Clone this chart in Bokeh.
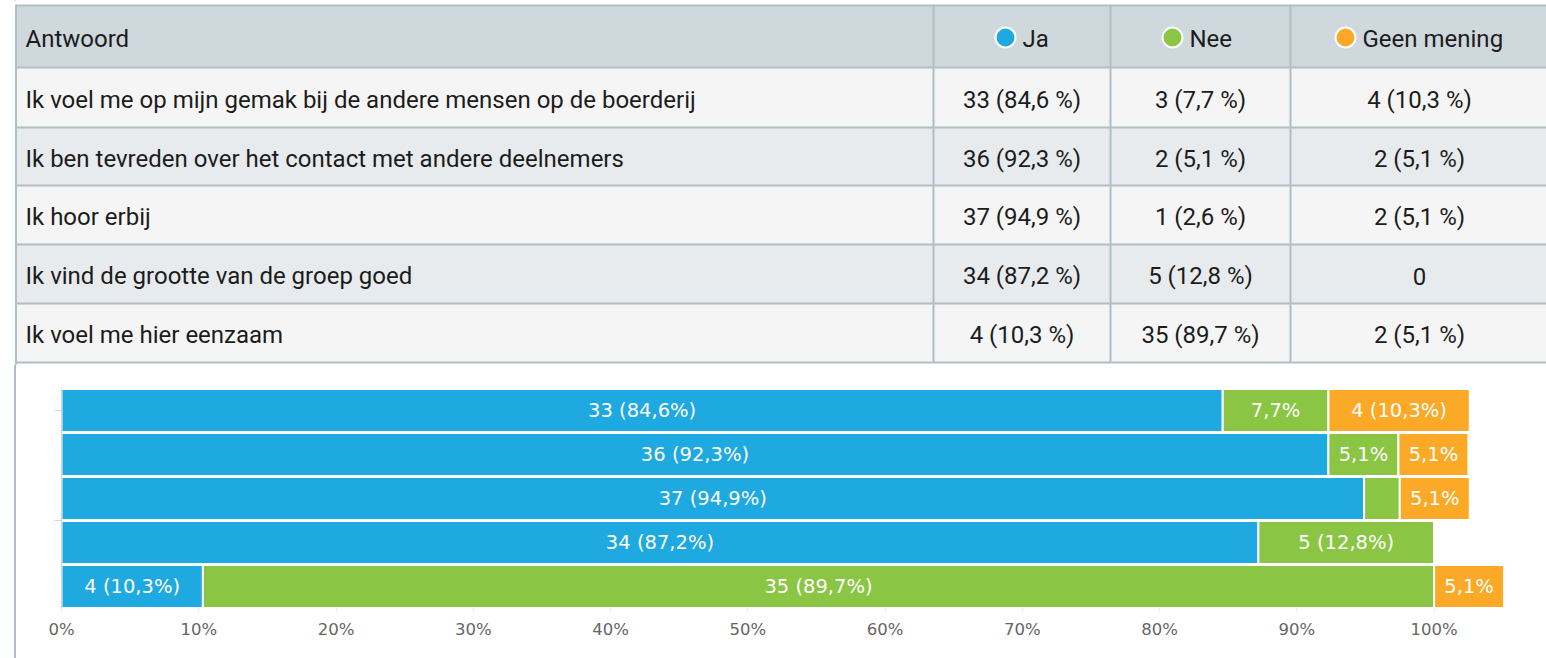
from bokeh.plotting import figure
from bokeh.layouts import column
from bokeh.models import Range1d, FixedTicker, CustomJSTickFormatter, BoxAnnotation, Span
from bokeh.core.properties import value
from bokeh.embed import file_html
from bokeh.resources import INLINE

# ---------------- data ----------------
statements = [
    "Ik voel me op mijn gemak bij de andere mensen op de boerderij",
    "Ik ben tevreden over het contact met andere deelnemers",
    "Ik hoor erbij",
    "Ik vind de grootte van de groep goed",
    "Ik voel me hier eenzaam",
]
answers = ["Ja", "Nee", "Geen mening"]
header_first = "Antwoord"
ja_n = [33, 36, 37, 34, 4]
nee_n = [3, 2, 1, 5, 35]
geen_n = [4, 2, 2, 0, 2]
ja_pct = [84.6, 92.3, 94.9, 87.2, 10.3]
nee_pct = [7.7, 5.1, 2.6, 12.8, 89.7]
geen_pct = [10.3, 5.1, 5.1, 0.0, 5.1]
x_ticks = [0, 10, 20, 30, 40, 50, 60, 70, 80, 90, 100]
colors = ["#1ea9e1", "#8bc544", "#fba926"]

counts = [ja_n, nee_n, geen_n]
pcts = [ja_pct, nee_pct, geen_pct]

TABLE_FONT = "Roboto"
CHART_FONT = "DejaVu Sans"
BORDER = "#b0bec5"
W = 1546


def fmt_pct(p):
    return f"{p:.1f}".replace(".", ",")


def cell_text(n, p):
    return "0" if n == 0 else f"{n} ({fmt_pct(p)} %)"


# ---------------- table ----------------
TH = 365
t = figure(width=W, height=TH, x_range=Range1d(0, W), y_range=Range1d(TH, 0),
           x_axis_type=None, y_axis_type=None, min_border=0,
           output_backend="svg", toolbar_location=None)
t.grid.visible = False
t.outline_line_color = None

edges = [5, 67, 127, 185, 244, 303, 362]
fills = ["#cfd8dc", "#f5f5f5", "#e8ebed", "#f5f5f5", "#e8ebed", "#f5f5f5"]
t.quad(left=15.5, right=W, top=edges[:-1], bottom=edges[1:], fill_color=fills, line_color=None)
t.segment(x0=15.5, x1=W, y0=edges, y1=edges, line_color=BORDER, line_width=2)
col_x = [933, 1110, 1290]
t.segment(x0=col_x, x1=col_x, y0=edges[0] - 1, y1=edges[-1], line_color=BORDER, line_width=2)
t.add_layout(BoxAnnotation(left=14.5, right=16.5, top=4, bottom=TH,
                           left_units="canvas", right_units="canvas",
                           top_units="canvas", bottom_units="canvas",
                           fill_color=BORDER, fill_alpha=1, line_color=None, level="overlay"))

centers = [(edges[i] + edges[i + 1]) / 2 + 2 for i in range(len(edges) - 1)]
FS = "24px"
TXT = "#1c1c1c"
t.text(x=[25], y=[centers[0]], text=[header_first], text_font=value(TABLE_FONT),
       text_font_size=FS, text_color=TXT, text_baseline="middle", text_align="left")
t.text(x=[25] * len(statements), y=centers[1:], text=statements, text_font=value(TABLE_FONT),
       text_font_size=FS, text_color=TXT, text_baseline="middle", text_align="left")

dot_x = [1005, 1172, 1345]
t.scatter(x=dot_x, y=[centers[0] - 1] * 3, size=20, fill_color=colors, line_color="white", line_width=2)
t.text(x=[d + 17 for d in dot_x], y=[centers[0]] * 3, text=answers, text_font=value(TABLE_FONT),
       text_font_size=FS, text_color=TXT, text_baseline="middle", text_align="left")

col_centers = [(933 + 1110) / 2, (1110 + 1290) / 2, (1290 + 1548) / 2]
for j in range(3):
    t.text(x=[col_centers[j]] * len(statements), y=centers[1:],
           text=[cell_text(n, p) for n, p in zip(counts[j], pcts[j])],
           text_font=value(TABLE_FONT), text_font_size=FS, text_color=TXT,
           text_baseline="middle", text_align="center")

# ---------------- chart ----------------
CH = 658 - TH
PX_PER_PCT = 13.726
ZERO_X = 61
x_start = -ZERO_X / PX_PER_PCT
x_end = (W - ZERO_X) / PX_PER_PCT
c = figure(width=W, height=CH, x_range=Range1d(x_start, x_end), y_range=Range1d(4.5, -0.5),
           y_axis_location=None,
           min_border_left=0, min_border_right=0, min_border_top=388 - TH, min_border_bottom=50,
           output_backend="svg", toolbar_location=None)
c.outline_line_color = None
c.border_fill_color = None
c.background_fill_color = None
c.ygrid.visible = False
c.xgrid.ticker = FixedTicker(ticks=x_ticks)
c.xgrid.grid_line_color = "#e6e6e6"

ys = list(range(len(statements)))
lefts = [0.0] * len(ys)
lx, ly, lt = [], [], []
for j in range(3):
    rights = [l + p for l, p in zip(lefts, pcts[j])]
    c.hbar(y=ys, left=lefts, right=rights, height=0.98, fill_color=colors[j],
           line_color="white", line_width=2)
    for i in ys:
        p = pcts[j][i]
        n = counts[j][i]
        if p >= 10:
            s = f"{n} ({fmt_pct(p)}%)"
        elif p >= 5:
            s = f"{fmt_pct(p)}%"
        else:
            s = ""
        if s:
            lx.append((lefts[i] + rights[i]) / 2)
            ly.append(i)
            lt.append(s)
    lefts = rights

c.text(x=lx, y=ly, text=lt, text_align="center", text_baseline="middle", text_color="white",
       text_font=value(CHART_FONT), text_font_size="19.5px")

# category axis line and ticks
c.add_layout(Span(location=0, dimension="height", line_color="#ccd6eb", line_width=1))
tick_len = 7 / PX_PER_PCT
c.segment(x0=[-tick_len] * 2, x1=[0, 0], y0=[0, 2.5], y1=[0, 2.5], line_color="#ccd6eb", line_width=1)

c.xaxis.ticker = FixedTicker(ticks=x_ticks)
c.xaxis.formatter = CustomJSTickFormatter(code="return tick + '%';")
c.xaxis.axis_line_color = None
c.xaxis.major_tick_line_color = "#e6e6e6"
c.xaxis.major_tick_out = 3
c.xaxis.major_tick_in = 0
c.xaxis.minor_tick_line_color = None
c.xaxis.major_label_text_color = "#666666"
c.xaxis.major_label_text_font = CHART_FONT
c.xaxis.major_label_text_font_size = "16.5px"
c.xaxis.major_label_standoff = 8

p = column(t, c, styles={
    "background": "linear-gradient(to right, #ffffff 0px, #ffffff 14.5px, "
                  "#b0bec5 14.5px, #b0bec5 16.5px, #ffffff 16.5px, #ffffff 100%)"
})

open("out.html", "w").write(file_html(p, INLINE))
